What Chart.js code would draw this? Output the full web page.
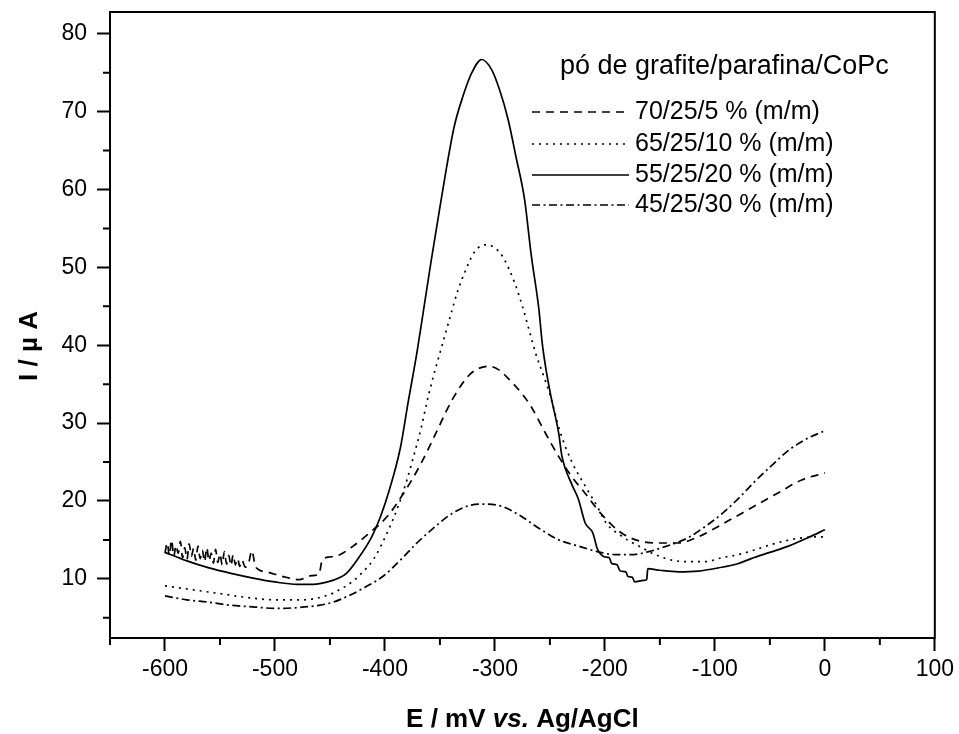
<!DOCTYPE html>
<html><head><meta charset="utf-8">
<script src="https://cdn.jsdelivr.net/npm/chart.js@4.4.0/dist/chart.umd.min.js"></script>
<style>html,body{margin:0;padding:0;background:#fff;}#wrap{width:959px;height:734px;}</style>
</head><body><div id="wrap"><canvas id="c" width="959" height="734"></canvas></div>
<script>
const legendTitle = 'pó de grafite/parafina/CoPc';
const seriesLabels = ['70/25/5 % (m/m)', '65/25/10 % (m/m)', '55/25/20 % (m/m)', '45/25/30 % (m/m)'];
const xTicks = [-600, -500, -400, -300, -200, -100, 0, 100];
const yTicks = [10, 20, 30, 40, 50, 60, 70, 80];
const xMinor = [-650, -550, -450, -350, -250, -150, -50, 50];
const yMinor = [5, 15, 25, 35, 45, 55, 65, 75];

// 70/25/5 (dashed)
const e70 = [-600,-598,-596,-594,-592,-590,-588,-586,-584,-582,-580,-578,-576,-574,-572,-570,-568,-566,-564,-562,-560,-558,-556,-554,-552,-550,-548,-546,-544,-542,-540,-538,-536,-534,-532,-530,-527,-524,-521,-518,-515,
  -505,-490,-478,-467,-460,-457,-450,-441,-429,-414,-398,-383,-368,-353,-344,-338,-329,-320,-305,-296,-287,-275,-267,-254,-242,-230,-218,-205,-187,-172,-154,-133,-115,-91,-67,-43,-21,0];
const i70 = [13.3,14.6,13.0,15.0,12.9,14.3,13.3,14.8,12.7,14.0,12.5,14.5,12.9,13.9,12.4,14.2,12.6,13.7,12.2,14.0,12.3,13.3,12.0,13.8,12.1,13.2,11.8,13.5,11.9,13.0,11.7,13.1,11.8,12.6,11.6,12.4,11.5,12.0,13.6,11.7,11.2,
  10.8,10.2,9.9,10.4,10.6,12.4,12.8,13.1,14.2,15.9,18.0,21.0,24.6,28.9,31.6,33.2,35.2,36.6,37.3,36.8,35.6,33.7,32.1,28.7,25.7,23.1,21.0,18.6,16.1,15.0,14.6,14.6,15.4,17.2,19.1,21.0,22.7,23.6];
// 65/25/10 (dotted)
const e65 = [-600,-575,-550,-525,-500,-475,-450,-440,-430,-420,-410,-398,-388,-380,-373,-367,-362,-356,-350,-344,-340,-334,-327,-319,-309,-301,-293,-282,-275,-269,-263,-254,-250,-241,-230,-217,-207,-199,-184,-169,-154,-139,-124,-109,-94,-79,-64,-49,-24,-6,0];
const i65 = [9.1,8.6,8.1,7.6,7.3,7.3,8.0,8.7,9.6,10.9,12.6,15.9,19.3,22.7,26.2,29.4,32.6,36.0,39.0,42.0,44.0,46.9,49.5,51.9,52.9,52.6,51.4,48.0,45.0,42.0,39.0,35.4,33.7,29.0,25.0,21.7,19.3,17.2,15.4,14.2,13.1,12.4,12.2,12.2,12.7,13.1,13.7,14.4,15.2,15.4,15.4];
// 55/25/20 (solid)
const e55 = [-600,-580,-560,-540,-520,-500,-480,-465,-452,-442,-435,-423,-412,-404,-396,-386,-379,-371,-365,-358,-352,-344,-337,-329,-321,-312,-303,-296,-288,-281,-273,-267,-260,-257,-254,-249,-242,-239,-230,-224,-218,-211,-207,-204,-200,-196,-194,-189,-186,-181,-179,-175,-173,-165,-162,-161,-150,-133,-115,-97,-80,-67,-50,-33,-15,0];
const i55 = [13.4,12.3,11.4,10.7,10.1,9.6,9.3,9.3,9.6,10.1,10.7,12.9,15.4,18.0,21.4,26.8,32.6,39.0,44.4,50.8,56.0,62.8,68.1,72.0,75.0,76.7,75.4,72.9,69.0,64.3,58.7,51.6,44.6,40.3,37.3,33.4,28.7,25.7,22.1,20.2,17.2,15.9,13.9,13.2,12.8,12.7,12.0,11.8,11.0,10.9,10.3,10.2,9.6,9.8,9.9,11.3,11.1,10.9,11.0,11.4,11.9,12.6,13.4,14.2,15.3,16.3];
// 45/25/30 (dash-dot)
const e45 = [-600,-580,-560,-540,-520,-500,-480,-460,-447,-432,-417,-402,-386,-371,-356,-341,-326,-314,-296,-278,-260,-242,-224,-207,-190,-176,-160,-148,-124,-110,-94,-78,-63,-48,-33,-15,0];
const i45 = [7.8,7.3,7.0,6.6,6.4,6.2,6.3,6.6,7.0,7.9,9.0,10.3,12.4,14.6,16.5,18.2,19.3,19.6,19.4,18.2,16.5,15.0,14.2,13.5,13.1,13.1,13.5,14.0,15.3,16.6,18.3,20.4,22.6,24.6,26.5,28.1,29.0];

const pts = (xs, ys) => xs.map((x, k) => ({x: x, y: ys[k]}));
const dashes = [[8, 6], [2, 5], [], [8, 3.5, 2, 3.5]];
const seriesData = [pts(e70, i70), pts(e65, i65), pts(e55, i55), pts(e45, i45)];

const FONT = "'Liberation Sans', Arial, sans-serif";

const extras = {
  id: 'extras',
  afterDraw(chart) {
    const ctx = chart.ctx, a = chart.chartArea;
    const sx = chart.scales.x, sy = chart.scales.y;
    ctx.save();
    ctx.strokeStyle = '#000';
    ctx.lineWidth = 2;
    ctx.setLineDash([]);
    ctx.strokeRect(a.left, a.top, a.right - a.left, a.bottom - a.top);
    ctx.beginPath();
    xMinor.forEach(v => { const p = sx.getPixelForValue(v); ctx.moveTo(p, a.bottom); ctx.lineTo(p, a.bottom + 7); });
    yMinor.forEach(v => { const p = sy.getPixelForValue(v); ctx.moveTo(a.left, p); ctx.lineTo(a.left - 7, p); });
    ctx.stroke();
    ctx.fillStyle = '#000';
    ctx.textBaseline = 'alphabetic';
    const parts = [['E / mV ', 'bold 26px ' + FONT], ['vs.', 'italic bold 26px ' + FONT], [' Ag/AgCl', 'bold 26px ' + FONT]];
    let tw = 0;
    parts.forEach(p => { ctx.font = p[1]; tw += ctx.measureText(p[0]).width; });
    let x0 = (a.left + a.right) / 2 - tw / 2;
    ctx.textAlign = 'left';
    parts.forEach(p => { ctx.font = p[1]; ctx.fillText(p[0], x0, 727); x0 += ctx.measureText(p[0]).width; });
    ctx.save();
    ctx.translate(37, 346);
    ctx.rotate(-Math.PI / 2);
    ctx.font = 'bold 26px ' + FONT;
    ctx.textAlign = 'center';
    ctx.fillText('I / µ A', 0, 0);
    ctx.restore();
    ctx.font = '27px ' + FONT;
    ctx.textAlign = 'left';
    ctx.textBaseline = 'middle';
    ctx.fillText(legendTitle, 560, 67);
    const rows = [112, 144, 175, 205];
    chart.data.datasets.forEach((ds, k) => {
      ctx.lineWidth = ds.borderWidth;
      ctx.setLineDash(ds.borderDash || []);
      ctx.beginPath();
      ctx.moveTo(532, rows[k]);
      ctx.lineTo(629, rows[k]);
      ctx.stroke();
      ctx.setLineDash([]);
      ctx.font = '25px ' + FONT;
      ctx.fillText(ds.label, 635, rows[k]);
    });
    ctx.restore();
  }
};

new Chart(document.getElementById('c'), {
  type: 'scatter',
  data: {
    datasets: seriesData.map((d, k) => ({
      label: seriesLabels[k],
      data: d,
      showLine: true,
      borderColor: '#000',
      backgroundColor: '#000',
      borderWidth: 1.7,
      borderDash: dashes[k],
      pointRadius: 0,
      cubicInterpolationMode: 'monotone',
      fill: false
    }))
  },
  options: {
    responsive: false,
    animation: false,
    devicePixelRatio: 1,
    layout: { padding: { left: 0, top: 12, right: 22, bottom: 0 } },
    plugins: { legend: { display: false }, tooltip: { enabled: false } },
    scales: {
      x: {
        type: 'linear', min: -650, max: 100,
        afterBuildTicks: s => { s.ticks = xTicks.map(v => ({ value: v })); },
        afterFit: s => { s.height = 96; s.paddingLeft = 0; },
        grid: { drawOnChartArea: false, drawTicks: true, tickLength: 13, tickWidth: 2, tickColor: '#000' },
        border: { display: false },
        ticks: { color: '#000', font: { family: FONT, size: 23 }, padding: 5, maxRotation: 0, autoSkip: false, callback: v => String(v) },
        title: { display: false }
      },
      y: {
        type: 'linear', min: 2.4, max: 82.8,
        afterBuildTicks: s => { s.ticks = yTicks.map(v => ({ value: v })); },
        afterFit: s => { s.width = 110; s.paddingTop = 0; s.paddingBottom = 0; },
        grid: { drawOnChartArea: false, drawTicks: true, tickLength: 13, tickWidth: 2, tickColor: '#000' },
        border: { display: false },
        ticks: { color: '#000', font: { family: FONT, size: 23 }, padding: 10, autoSkip: false, callback: v => String(v) },
        title: { display: false }
      }
    }
  },
  plugins: [extras]
});
</script></body></html>
